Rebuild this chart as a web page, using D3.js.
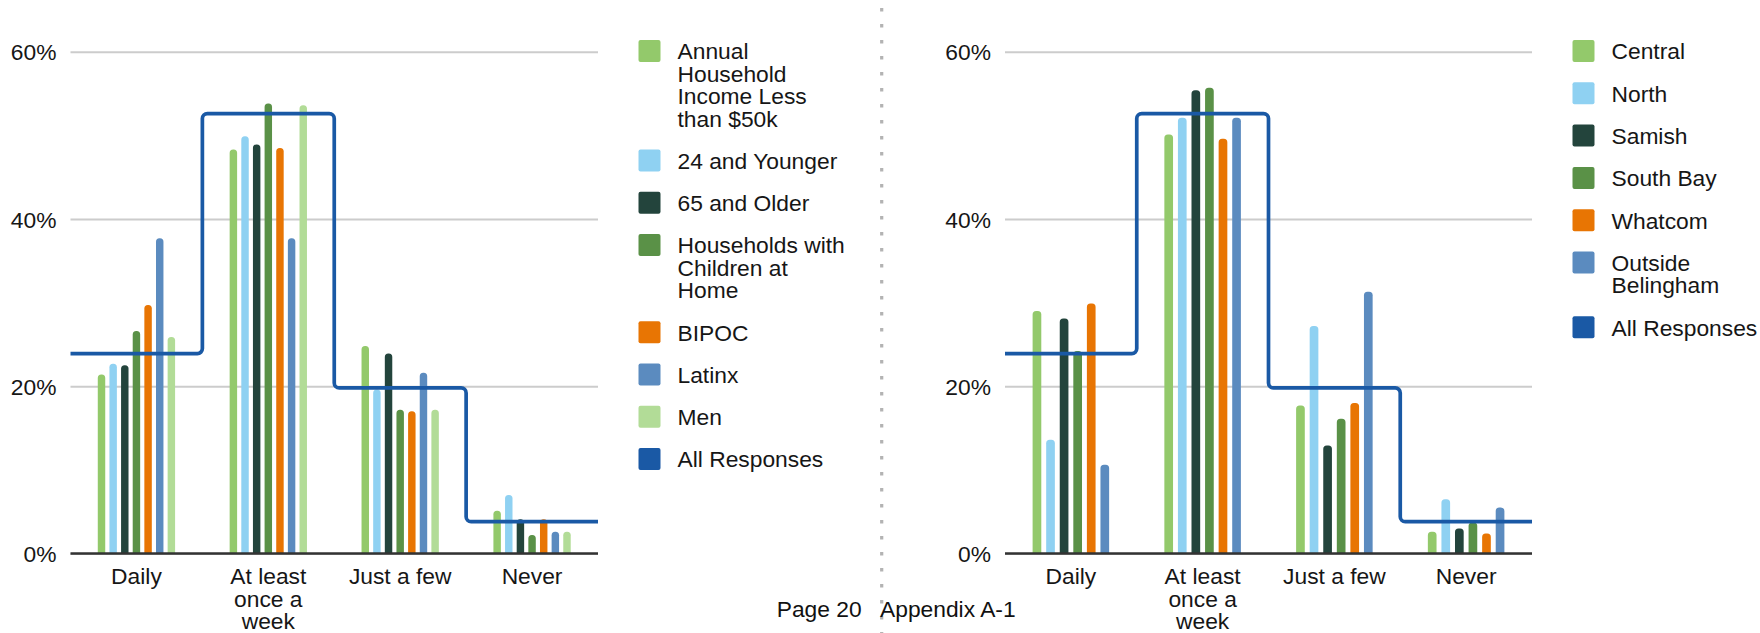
<!DOCTYPE html>
<html>
<head>
<meta charset="utf-8">
<script src="https://cdn.jsdelivr.net/npm/d3@7"></script>
<style>
  body { margin: 0; background: #fff; }
  svg { display: block; font-family: "Liberation Sans", Arial, sans-serif; }
</style>
</head>
<body>
<svg width="1760" height="633"></svg>
<script>
// data
const categories = ['Daily', 'At least once a week', 'Just a few', 'Never'];
const yTicks = [0, 20, 40, 60];

const allResponsesLabel = 'All Responses';
const allResponses = [23.9, 52.6, 19.8, 3.8];

const groupSeries = [
  'Annual Household Income Less than $50k',
  '24 and Younger',
  '65 and Older',
  'Households with Children at Home',
  'BIPOC',
  'Latinx',
  'Men'
];
const groupValues = [
  [21.4, 48.3, 24.8, 5.1],
  [22.7, 49.9, 19.6, 7.0],
  [22.5, 48.9, 23.9, 4.1],
  [26.6, 53.8, 17.2, 2.2],
  [29.7, 48.5, 17.0, 4.1],
  [37.7, 37.7, 21.6, 2.6],
  [25.9, 53.6, 17.2, 2.6]
];

const areaSeries = ['Central', 'North', 'Samish', 'South Bay', 'Whatcom', 'Outside Belingham'];
const areaValues = [
  [29.0, 50.1, 17.7, 2.6],
  [13.6, 52.1, 27.2, 6.5],
  [28.1, 55.4, 12.9, 3.0],
  [24.2, 55.7, 16.1, 3.7],
  [29.9, 49.6, 18.0, 2.4],
  [10.6, 52.1, 31.3, 5.5]
];

// colours
const groupColors = ['#93c96b', '#8fd1f2', '#23443c', '#5a9147', '#e87503', '#5b8bbf', '#b2dc97'];
const areaColors = ['#93c96b', '#8fd1f2', '#23443c', '#5a9147', '#e87503', '#5b8bbf'];
const allColor = '#1a59a5';

const svg = d3.select('svg');
const fontFamily = '"Liberation Sans", Arial, sans-serif';
const fontSize = 22.8;
const lineH = 22.4;
const textColor = '#161616';

// hidden text used to measure wrapping
const measure = svg.append('text')
  .attr('font-size', fontSize)
  .attr('visibility', 'hidden');

const splitLines = (str, maxW) => {
  const lines = [];
  let cur = '';
  str.split(' ').forEach(w => {
    const t = cur ? cur + ' ' + w : w;
    measure.text(t);
    if (measure.node().getComputedTextLength() > maxW && cur) {
      lines.push(cur);
      cur = w;
    } else {
      cur = t;
    }
  });
  lines.push(cur);
  return lines;
};

// bar with rounded top corners
const barPath = (x, top, w, base, r) => {
  const p = d3.path();
  r = Math.min(r, w / 2, base - top);
  p.moveTo(x, base);
  p.lineTo(x, top + r);
  p.arcTo(x, top, x + r, top, r);
  p.lineTo(x + w - r, top);
  p.arcTo(x + w, top, x + w, top + r, r);
  p.lineTo(x + w, base);
  p.closePath();
  return p.toString();
};

const render = cfg => {
  const { left, right, series, values, colors, legendX, legendWrap } = cfg;

  const y = d3.scaleLinear().domain([0, 60]).range([553.5, 51.7]);
  const xBand = d3.scaleBand().domain(categories).range([left, right]);
  const groupW = xBand.bandwidth() * 0.618;
  const xInner = d3.scaleBand()
    .domain(series)
    .range([-groupW / 2, groupW / 2])
    .paddingInner(0.36)
    .paddingOuter(0.18);

  // y axis + gridlines
  const yAxisG = svg.append('g')
    .attr('transform', `translate(${left},0)`)
    .call(d3.axisLeft(y)
      .tickValues(yTicks)
      .tickFormat(d => d + '%')
      .tickSize(-(right - left))
      .tickPadding(14));
  yAxisG.attr('font-family', fontFamily).attr('font-size', fontSize);
  yAxisG.select('.domain').remove();
  yAxisG.selectAll('line').attr('stroke', '#cccccc').attr('stroke-width', 2);
  yAxisG.selectAll('text').attr('fill', textColor).attr('dy', '0.355em');

  // bars
  const barData = series.flatMap((s, i) =>
    categories.map((c, j) => ({ s, c, v: values[i][j], color: colors[i] })));
  svg.append('g')
    .selectAll('path')
    .data(barData)
    .join('path')
    .attr('fill', d => d.color)
    .attr('d', d => barPath(
      xBand(d.c) + xBand.bandwidth() / 2 + xInner(d.s),
      y(d.v),
      xInner.bandwidth(),
      y(0),
      3.5));

  // baseline
  svg.append('line')
    .attr('x1', left).attr('x2', right)
    .attr('y1', y(0)).attr('y2', y(0))
    .attr('stroke', '#333').attr('stroke-width', 2.4);

  // all responses step line
  const pts = categories.flatMap((c, j) => [
    [xBand(c), y(allResponses[j])],
    [xBand(c) + xBand.bandwidth(), y(allResponses[j])]
  ]);
  const step = d3.path();
  step.moveTo(pts[0][0], pts[0][1]);
  for (let i = 1; i < pts.length - 1; i++) {
    step.arcTo(pts[i][0], pts[i][1], pts[i + 1][0], pts[i + 1][1], 5);
  }
  step.lineTo(pts[pts.length - 1][0], pts[pts.length - 1][1]);
  svg.append('path')
    .attr('d', step.toString())
    .attr('fill', 'none')
    .attr('stroke', allColor)
    .attr('stroke-width', 3.7);

  // x axis labels
  const xAxisG = svg.append('g')
    .attr('transform', `translate(0,${y(0)})`)
    .call(d3.axisBottom(xBand).tickSize(0).tickPadding(0));
  xAxisG.attr('font-family', fontFamily).attr('font-size', fontSize);
  xAxisG.select('.domain').remove();
  xAxisG.selectAll('text').each(function (d) {
    const lines = splitLines(d, 118);
    const t = d3.select(this).text(null).attr('y', 30.8).attr('dy', null).attr('fill', textColor);
    lines.forEach((l, k) => t.append('tspan').attr('x', 0).attr('dy', k ? lineH : 0).text(l));
  });

  // legend
  const items = series.map((s, i) => ({ name: s, color: colors[i] }))
    .concat([{ name: allResponsesLabel, color: allColor }]);
  let top = 40;
  const lg = svg.append('g').attr('font-size', fontSize).attr('fill', textColor);
  items.forEach(item => {
    const lines = splitLines(item.name, legendWrap);
    lg.append('rect')
      .attr('x', legendX).attr('y', top)
      .attr('width', 22).attr('height', 22)
      .attr('rx', 2)
      .attr('fill', item.color);
    const t = lg.append('text').attr('x', legendX + 39).attr('y', top + 19.3);
    lines.forEach((l, k) => t.append('tspan').attr('x', legendX + 39).attr('dy', k ? lineH : 0).text(l));
    top += 42.3 + (lines.length - 1) * lineH;
  });
};

render({
  left: 70.5, right: 598,
  series: groupSeries, values: groupValues, colors: groupColors,
  legendX: 638.5, legendWrap: 172
});

render({
  left: 1005, right: 1532,
  series: areaSeries, values: areaValues, colors: areaColors,
  legendX: 1572.5, legendWrap: 150
});

// page separator and footer
svg.append('line')
  .attr('x1', 881.7).attr('x2', 881.7)
  .attr('y1', 8).attr('y2', 633)
  .attr('stroke', '#b3b3b3')
  .attr('stroke-width', 3.2)
  .attr('stroke-dasharray', '3.5 12.5');

svg.append('text')
  .attr('x', 776.7).attr('y', 616.7)
  .attr('font-size', fontSize).attr('fill', '#111')
  .text('Page 20');
svg.append('text')
  .attr('x', 880).attr('y', 616.7)
  .attr('font-size', fontSize).attr('fill', '#111')
  .text('Appendix A-1');
</script>
</body>
</html>
